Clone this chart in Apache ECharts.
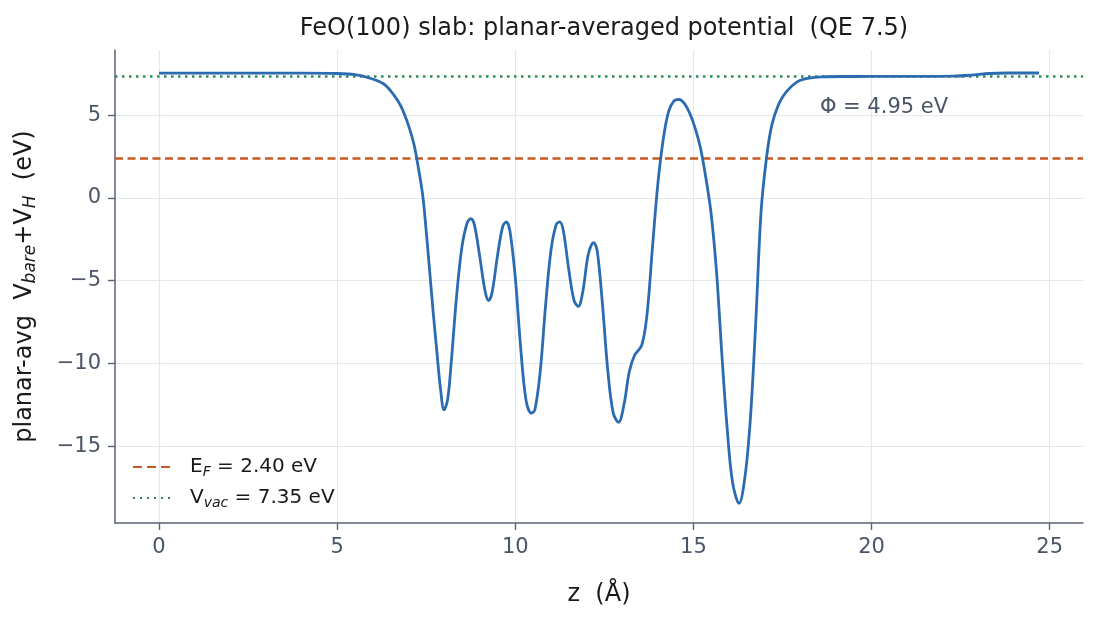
<!DOCTYPE html>
<html>
<head>
<meta charset="utf-8">
<script src="https://cdn.jsdelivr.net/npm/echarts@6/dist/echarts.min.js"></script>
<style>
  html, body { margin: 0; padding: 0; background: #fff; }
  #chart { width: 1099px; height: 619px; }
</style>
</head>
<body>
<div id="chart"></div>
<script>
// z positions (Å)
const zValues = [
  0, 1, 2, 3, 4, 5, 5.5, 5.9, 6.3, 6.6, 6.8, 7.0, 7.15, 7.25, 7.4, 7.5, 7.6, 7.7, 7.8, 7.9,
  8.0, 8.1, 8.2, 8.35, 8.5, 8.65, 8.75, 8.85, 9.0, 9.15, 9.25, 9.35, 9.5, 9.65, 9.75, 9.85,
  10.0, 10.15, 10.3, 10.45, 10.55, 10.7, 10.85, 11.0, 11.15, 11.25, 11.35, 11.5, 11.65, 11.77,
  11.9, 12.05, 12.2, 12.3, 12.45, 12.6, 12.75, 12.9, 13.05, 13.2, 13.35, 13.55, 13.7, 13.85,
  14.0, 14.15, 14.3, 14.45, 14.6, 14.75, 14.9, 15.05, 15.2, 15.35, 15.5, 15.65, 15.8, 15.95,
  16.1, 16.28, 16.45, 16.6, 16.75, 16.9, 17.05, 17.2, 17.4, 17.6, 17.9, 18.2, 18.6, 19.5,
  20.5, 21.5, 22.3, 22.8, 23.3, 23.8, 24.7
];
// planar-averaged potential (eV)
const potential = [
  7.54, 7.54, 7.54, 7.54, 7.54, 7.52, 7.45, 7.25, 6.9, 6.2, 5.5, 4.4, 3.3, 2.2, 0.2, -2.0, -4.5, -7.0, -9.3, -11.5,
  -12.8, -12.2, -10.0, -6.0, -3.0, -1.5, -1.25, -1.6, -3.5, -5.6, -6.2, -5.7, -3.5, -1.7, -1.45, -2.0,
  -4.8, -9.0, -12.2, -13.0, -12.8, -10.5, -6.5, -3.2, -1.6, -1.45, -2.0, -4.3, -6.2, -6.55,
  -5.6, -3.4, -2.7, -3.2, -6.5, -10.5, -13.0, -13.55, -12.5, -10.5, -9.5, -8.9, -7.0, -3.0,
  0.8, 3.5, 5.2, 5.85, 5.95, 5.7, 5.1, 4.2, 3.0, 1.2, -1.0, -4.5, -9.5, -14.0,
  -17.2, -18.45, -16.8, -13.3, -7.5, -0.8, 2.4, 4.4, 5.7, 6.4, 7.0, 7.22, 7.32, 7.34,
  7.35, 7.35, 7.36, 7.42, 7.52, 7.55, 7.55
];

const fermiLevel = 2.40;
const vacuumLevel = 7.35;
const workFunction = 4.95;

const xTicks = [0, 5, 10, 15, 20, 25];
const yTicks = [-15, -10, -5, 0, 5];

const fontFamily = 'DejaVu Sans';
const labelColor = '#4a5568';
const axisColor = '#5a6274';
const gridColor = '#e3e8ef';
const textColor = '#1a1a1a';
const efColor = '#c65a24';
const vacColor = '#2e8b57';

// legend swatches: dashed and dotted strokes
const dashIcon = 'path://M0,0h9v2h-9z M14,0h9v2h-9z M28,0h9v2h-9z';
const dotIcon = 'path://M0,0h2v2h-2z M7,0h2v2h-2z M14,0h2v2h-2z M21,0h2v2h-2z M28,0h2v2h-2z M35,0h2v2h-2z';

const curveData = zValues.map((z, i) => [z, potential[i]]);

const chart = echarts.init(document.getElementById('chart'), null, { renderer: 'canvas' });

const option = {
  backgroundColor: '#ffffff',
  animation: false,
  textStyle: { fontFamily: fontFamily },
  title: {
    text: 'FeO(100) slab: planar-averaged potential  (QE 7.5)',
    left: 599,
    textAlign: 'center',
    top: 12,
    textStyle: { fontFamily: fontFamily, fontSize: 24, fontWeight: 'normal', color: textColor }
  },
  grid: { left: 115, right: 16, top: 50, bottom: 96 },
  legend: {
    left: 128,
    top: 452,
    orient: 'vertical',
    itemWidth: 37,
    itemHeight: 2.6,
    itemGap: 9,
    data: [
      { name: 'ef', icon: dashIcon },
      { name: 'vac', icon: dotIcon }
    ],
    formatter: function (name) {
      if (name === 'ef') return '{n|E}{s|F}{n| = ' + fermiLevel.toFixed(2) + ' eV}';
      return '{n|V}{s|vac}{n| = ' + vacuumLevel.toFixed(2) + ' eV}';
    },
    textStyle: {
      color: textColor,
      fontFamily: fontFamily,
      fontSize: 20,
      padding: [0, 0, 0, 15],
      rich: {
        n: { fontFamily: fontFamily, fontSize: 20, color: textColor },
        s: { fontFamily: fontFamily, fontSize: 14, fontStyle: 'italic', color: textColor, verticalAlign: 'bottom', padding: [10, 0, 0, 0] }
      }
    }
  },
  xAxis: {
    type: 'value',
    min: -1.235,
    max: 25.935,
    name: 'z  (Å)',
    nameLocation: 'middle',
    nameGap: 60,
    nameTextStyle: { fontFamily: fontFamily, fontSize: 24, color: textColor },
    axisLine: { show: true, onZero: false, lineStyle: { color: axisColor, width: 1.5 } },
    axisTick: { show: true, length: 7, lineStyle: { color: axisColor, width: 1.4 }, customValues: xTicks },
    axisLabel: { fontFamily: fontFamily, fontSize: 21, color: labelColor, margin: 14, customValues: xTicks },
    splitLine: { show: true, lineStyle: { color: gridColor, width: 1.2 } }
  },
  yAxis: {
    type: 'value',
    min: -19.64,
    max: 8.94,
    name: '{n|planar-avg  V}{s|bare}{n|+V}{s|H}{n|  (eV)}',
    nameLocation: 'middle',
    nameGap: 76,
    nameTextStyle: {
      fontFamily: fontFamily,
      fontSize: 24,
      color: textColor,
      rich: {
        n: { fontFamily: fontFamily, fontSize: 24, color: textColor },
        s: { fontFamily: fontFamily, fontSize: 17, fontStyle: 'italic', color: textColor, verticalAlign: 'bottom', padding: [11, 0, 0, 0] }
      }
    },
    axisLine: { show: true, onZero: false, lineStyle: { color: axisColor, width: 1.5 } },
    axisTick: { show: true, length: 7, lineStyle: { color: axisColor, width: 1.4 }, customValues: yTicks },
    axisLabel: {
      fontFamily: fontFamily, fontSize: 21, color: labelColor, margin: 14, customValues: yTicks,
      formatter: v => String(v).replace('-', '\u2212')
    },
    splitLine: { show: true, lineStyle: { color: gridColor, width: 1.2 } }
  },
  series: [
    {
      name: 'potential',
      type: 'line',
      data: curveData,
      smooth: 0.35,
      showSymbol: false,
      symbol: 'none',
      lineStyle: { color: '#2b6cb0', width: 2.8 },
      z: 5
    },
    {
      name: 'ef',
      type: 'line',
      data: [],
      symbol: 'none',
      lineStyle: { color: efColor, width: 2.5, type: [8, 4.5] },
      itemStyle: { color: efColor },
      markLine: {
        silent: true,
        symbol: ['none', 'none'],
        label: { show: false },
        lineStyle: { color: efColor, width: 2.5, type: [8, 4.5] },
        data: [{ yAxis: fermiLevel }]
      },
      z: 3
    },
    {
      name: 'vac',
      type: 'line',
      data: [],
      symbol: 'none',
      lineStyle: { color: vacColor, width: 2.5, type: [2.5, 4.5] },
      itemStyle: { color: vacColor },
      markLine: {
        silent: true,
        symbol: ['none', 'none'],
        label: { show: false },
        lineStyle: { color: vacColor, width: 2.5, type: [2.5, 4.5] },
        data: [{ yAxis: vacuumLevel }]
      },
      z: 3
    }
  ]
};

chart.setOption(option);

// work-function annotation, placed in data coordinates
const annPos = chart.convertToPixel({ gridIndex: 0 }, [18.55, 5.44]);
chart.setOption({
  graphic: [{
    type: 'text',
    x: annPos[0],
    y: annPos[1],
    style: {
      text: '\u03A6 = ' + workFunction.toFixed(2) + ' eV',
      fontFamily: fontFamily,
      fontSize: 21,
      fill: labelColor,
      verticalAlign: 'middle'
    }
  }]
});
</script>
</body>
</html>
